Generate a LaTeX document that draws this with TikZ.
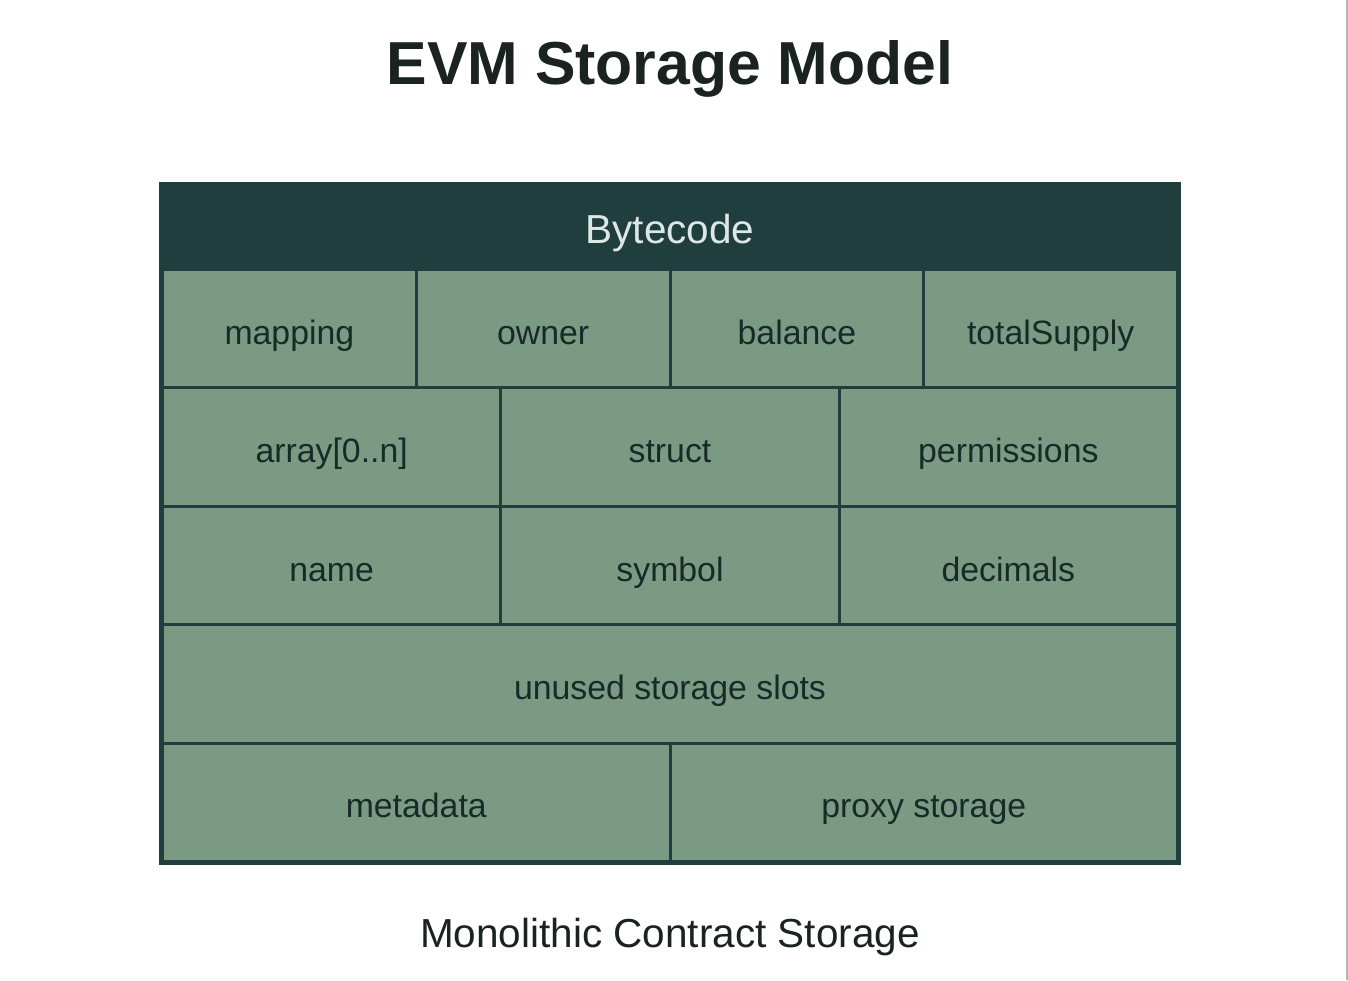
\documentclass[tikz,border=0pt]{standalone}
\usepackage{fontspec}
\setmainfont{Liberation Sans}
\definecolor{darkteal}{HTML}{213E3E}
\definecolor{sage}{HTML}{7A9A84}
\definecolor{ink}{HTML}{172A28}
\definecolor{titleink}{HTML}{1A2320}
\definecolor{hdrtxt}{HTML}{DCE8E5}
\definecolor{edgegray}{HTML}{B4B4B4}
\begin{document}
\begin{tikzpicture}[x=1pt,y=-1pt,
  cellbox/.style={fill=sage, inner sep=0pt, text height=31pt, text depth=0pt,
    text=ink, font=\fontsize{33.8}{40}\selectfont, minimum height=115.4pt},
  cfour/.style={cellbox, minimum width=250.75pt},
  cthree/.style={cellbox, minimum width=335.33pt},
  ctwo/.style={cellbox, minimum width=504.5pt},
  cone/.style={cellbox, minimum width=1012pt}]
\useasboundingbox (0,0) rectangle (1348,980);
\fill[white] (0,0) rectangle (1348,980);
\draw[edgegray, line width=1.5pt] (1347,0) -- (1347,980);
% title
\node[font=\bfseries\fontsize{60.7}{70}\selectfont, text=titleink, anchor=base, inner sep=0pt] (title) at (670,84) {EVM Storage Model};
% frame and header
\node[fill=darkteal, minimum width=1022pt, minimum height=683pt, inner sep=0pt] (frame) at (670,523.5) {};
\node[text=hdrtxt, font=\fontsize{40.5}{48}\selectfont, anchor=base, inner sep=0pt] (bytecode) at (670,243) {Bytecode};
% row 1
\node[cfour] (mapping) at (289.375,328.7) {mapping};
\node[cfour] (owner) at (543.125,328.7) {owner};
\node[cfour] (balance) at (796.875,328.7) {balance};
\node[cfour] (totalsupply) at (1050.625,328.7) {totalSupply};
% row 2
\node[cthree] (array) at (331.67,447.1) {array[0..n]};
\node[cthree] (struct) at (670,447.1) {struct};
\node[cthree] (permissions) at (1008.33,447.1) {permissions};
% row 3
\node[cthree] (name) at (331.67,565.5) {name};
\node[cthree] (symbol) at (670,565.5) {symbol};
\node[cthree] (decimals) at (1008.33,565.5) {decimals};
% row 4
\node[cone] (unused) at (670,683.9) {unused storage slots};
% row 5
\node[ctwo] (metadata) at (416.25,802.3) {metadata};
\node[ctwo] (proxy) at (923.75,802.3) {proxy storage};
% caption
\node[font=\fontsize{40.5}{48}\selectfont, text=titleink, anchor=base, inner sep=0pt] (caption) at (670,947.5) {Monolithic Contract Storage};
\end{tikzpicture}
\end{document}
